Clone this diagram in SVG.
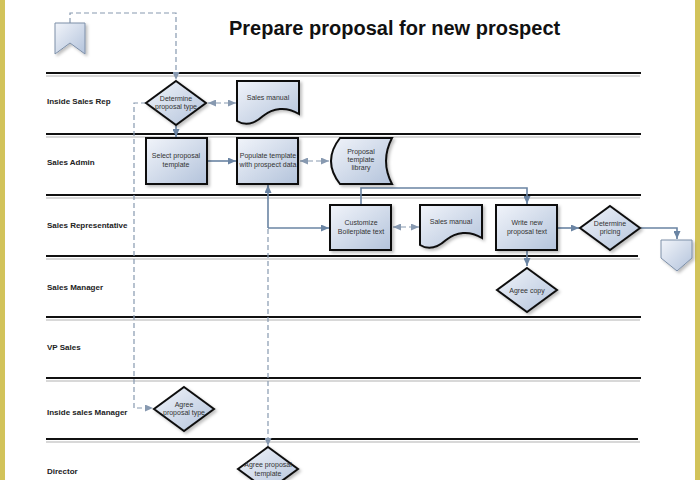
<svg xmlns="http://www.w3.org/2000/svg" width="700" height="480" viewBox="0 0 700 480">
<defs>
<linearGradient id="g" x1="0" y1="0" x2="1" y2="1">
<stop offset="0" stop-color="#f1f4fa"/>
<stop offset="1" stop-color="#b3c3db"/>
</linearGradient>
<filter id="sh" x="-20%" y="-20%" width="140%" height="140%">
<feDropShadow dx="2" dy="2" stdDeviation="1.5" flood-color="#000" flood-opacity="0.25"/>
</filter>
<marker id="a" viewBox="0 0 8 7" refX="8" refY="3.5" markerWidth="8" markerHeight="7" markerUnits="userSpaceOnUse" orient="auto-start-reverse">
<path d="M0,0 L8,3.5 L0,7 z" fill="#6a84a3"/>
</marker>
<marker id="ad" viewBox="0 0 8 7" refX="8" refY="3.5" markerWidth="8" markerHeight="7" markerUnits="userSpaceOnUse" orient="auto-start-reverse">
<path d="M0,0 L8,3.5 L0,7 z" fill="#8799b0"/>
</marker>
</defs>
<style>
.lane{stroke:#111;stroke-width:2}
.laneSh{stroke:#d8d8d8;stroke-width:2}
.lbl{font-family:"Liberation Sans",Arial,sans-serif;font-size:8px;font-weight:bold;fill:#222}
.title{font-family:"Liberation Sans",Arial,sans-serif;font-size:20px;font-weight:bold;fill:#111}
.n{fill:url(#g);stroke:#111;stroke-width:2;filter:url(#sh)}
.off{fill:url(#g);stroke:#7d8fa8;stroke-width:1;filter:url(#sh)}
.t{font-family:"Liberation Sans",Arial,sans-serif;font-size:7px;fill:#333;text-anchor:middle}
.c{fill:none;stroke:#6a84a3;stroke-width:1.6}
.d{fill:none;stroke:#8799b0;stroke-width:1.2;stroke-dasharray:5,3}
.bar{fill:#d2c35a}
</style>
<rect width="700" height="480" fill="#fff"/>
<rect class="bar" x="0" y="0" width="5" height="480"/>
<rect class="bar" x="695" y="0" width="5" height="480"/>

<text class="title" x="229" y="35">Prepare proposal for new prospect</text>

<g id="lanes">
<line class="laneSh" x1="46" y1="76" x2="640" y2="76"/>
<line class="laneSh" x1="46" y1="137" x2="640" y2="137"/>
<line class="laneSh" x1="46" y1="198" x2="640" y2="198"/>
<line class="laneSh" x1="46" y1="259" x2="640" y2="259"/>
<line class="laneSh" x1="46" y1="320" x2="640" y2="320"/>
<line class="laneSh" x1="46" y1="381" x2="640" y2="381"/>
<line class="laneSh" x1="46" y1="442" x2="640" y2="442"/>
<line class="lane" x1="46" y1="73" x2="641" y2="73"/>
<line class="lane" x1="46" y1="134" x2="641" y2="134"/>
<line class="lane" x1="46" y1="195" x2="641" y2="195"/>
<line class="lane" x1="46" y1="256" x2="638" y2="256"/>
<line class="lane" x1="46" y1="317" x2="641" y2="317"/>
<line class="lane" x1="46" y1="378" x2="641" y2="378"/>
<line class="lane" x1="46" y1="439" x2="638" y2="439"/>
<text class="lbl" x="47" y="104">Inside Sales Rep</text>
<text class="lbl" x="47" y="165">Sales Admin</text>
<text class="lbl" x="47" y="228">Sales Representative</text>
<text class="lbl" x="47" y="290">Sales Manager</text>
<text class="lbl" x="47" y="350">VP Sales</text>
<text class="lbl" x="47" y="415">Inside sales Manager</text>
<text class="lbl" x="47" y="474">Director</text>
</g>

<g id="connectors">
<path class="d" d="M70,23 V13 H176 V80" marker-end="url(#ad)"/>
<path class="d" d="M208,103 H236" marker-start="url(#ad)" marker-end="url(#ad)"/>
<path class="c" d="M176,126 V137" marker-end="url(#a)"/>
<path class="d" d="M146,103 H134 V408 H153" marker-end="url(#ad)"/>
<path class="c" d="M207,161 H236" marker-end="url(#a)"/>
<path class="d" d="M300,161 H329" marker-start="url(#ad)" marker-end="url(#ad)"/>
<path class="c" d="M268,228 V185" marker-end="url(#a)"/>
<path class="c" d="M268,228 H329" marker-end="url(#a)"/>
<path class="d" d="M268,229 V446" marker-end="url(#ad)"/>
<path class="c" d="M361,205 V188 H527 V204" marker-end="url(#a)"/>
<path class="d" d="M393,227 H419" marker-start="url(#ad)" marker-end="url(#ad)"/>
<path class="c" d="M558,228 H579" marker-end="url(#a)"/>
<path class="c" d="M641,228 H677 V239" marker-end="url(#a)"/>
<path class="c" d="M527,251 V266" marker-end="url(#a)"/>
</g>

<g id="offpage-start">
<path class="off" d="M55,23 H85 V54 L70,43 L55,54 Z"/>
</g>
<g id="determine-proposal-type">
<polygon class="n" points="176,81 206,103 176,125 146,103"/>
<text class="t" x="176" y="101">Determine</text>
<text class="t" x="176" y="109">proposal type</text>
</g>
<g id="sales-manual-1">
<path class="n" d="M237,81 H299 V114 C286,106 273,108 263,116 C253,125 245,126 237,121 Z"/>
<text class="t" x="268" y="100">Sales manual</text>
</g>
<g id="select-proposal-template">
<rect class="n" x="146" y="138" width="61" height="46"/>
<text class="t" x="176" y="158">Select proposal</text>
<text class="t" x="176" y="167">template</text>
</g>
<g id="populate-template">
<rect class="n" x="237" y="138" width="61" height="46"/>
<text class="t" x="268" y="158">Populate template</text>
<text class="t" x="268" y="167">with prospect data</text>
</g>
<g id="proposal-template-library">
<path class="n" d="M340,138 H392 Q380,161 392,184 H340 Q322,161 340,138 Z"/>
<text class="t" x="361" y="154">Proposal</text>
<text class="t" x="361" y="162">template</text>
<text class="t" x="361" y="170">library</text>
</g>
<g id="customize-boilerplate">
<rect class="n" x="330" y="205" width="61" height="45"/>
<text class="t" x="361" y="225">Customize</text>
<text class="t" x="361" y="234">Boilerplate text</text>
</g>
<g id="sales-manual-2">
<path class="n" d="M420,205 H482 V238 C469,230 456,232 446,240 C436,249 428,250 420,245 Z"/>
<text class="t" x="451" y="224">Sales manual</text>
</g>
<g id="write-new-proposal">
<rect class="n" x="496" y="205" width="61" height="45"/>
<text class="t" x="527" y="225">Write new</text>
<text class="t" x="527" y="234">proposal text</text>
</g>
<g id="determine-pricing">
<polygon class="n" points="610,206 640,228 610,250 580,228"/>
<text class="t" x="610" y="226">Determine</text>
<text class="t" x="610" y="234">pricing</text>
</g>
<g id="offpage-end">
<path class="off" d="M661,240 H692 V258 L677,271 L661,258 Z"/>
</g>
<g id="agree-copy">
<polygon class="n" points="527,268 557,290 527,312 497,290"/>
<text class="t" x="527" y="293">Agree copy</text>
</g>
<g id="agree-proposal-type">
<polygon class="n" points="184,387 214,409 184,431 154,409"/>
<text class="t" x="184" y="407">Agree</text>
<text class="t" x="184" y="415">proposal type</text>
</g>
<g id="agree-proposal-template">
<polygon class="n" points="268,447 298,469 268,491 238,469"/>
<text class="t" x="268" y="467">Agree proposal</text>
<text class="t" x="268" y="476">template</text>
</g>
</svg>
